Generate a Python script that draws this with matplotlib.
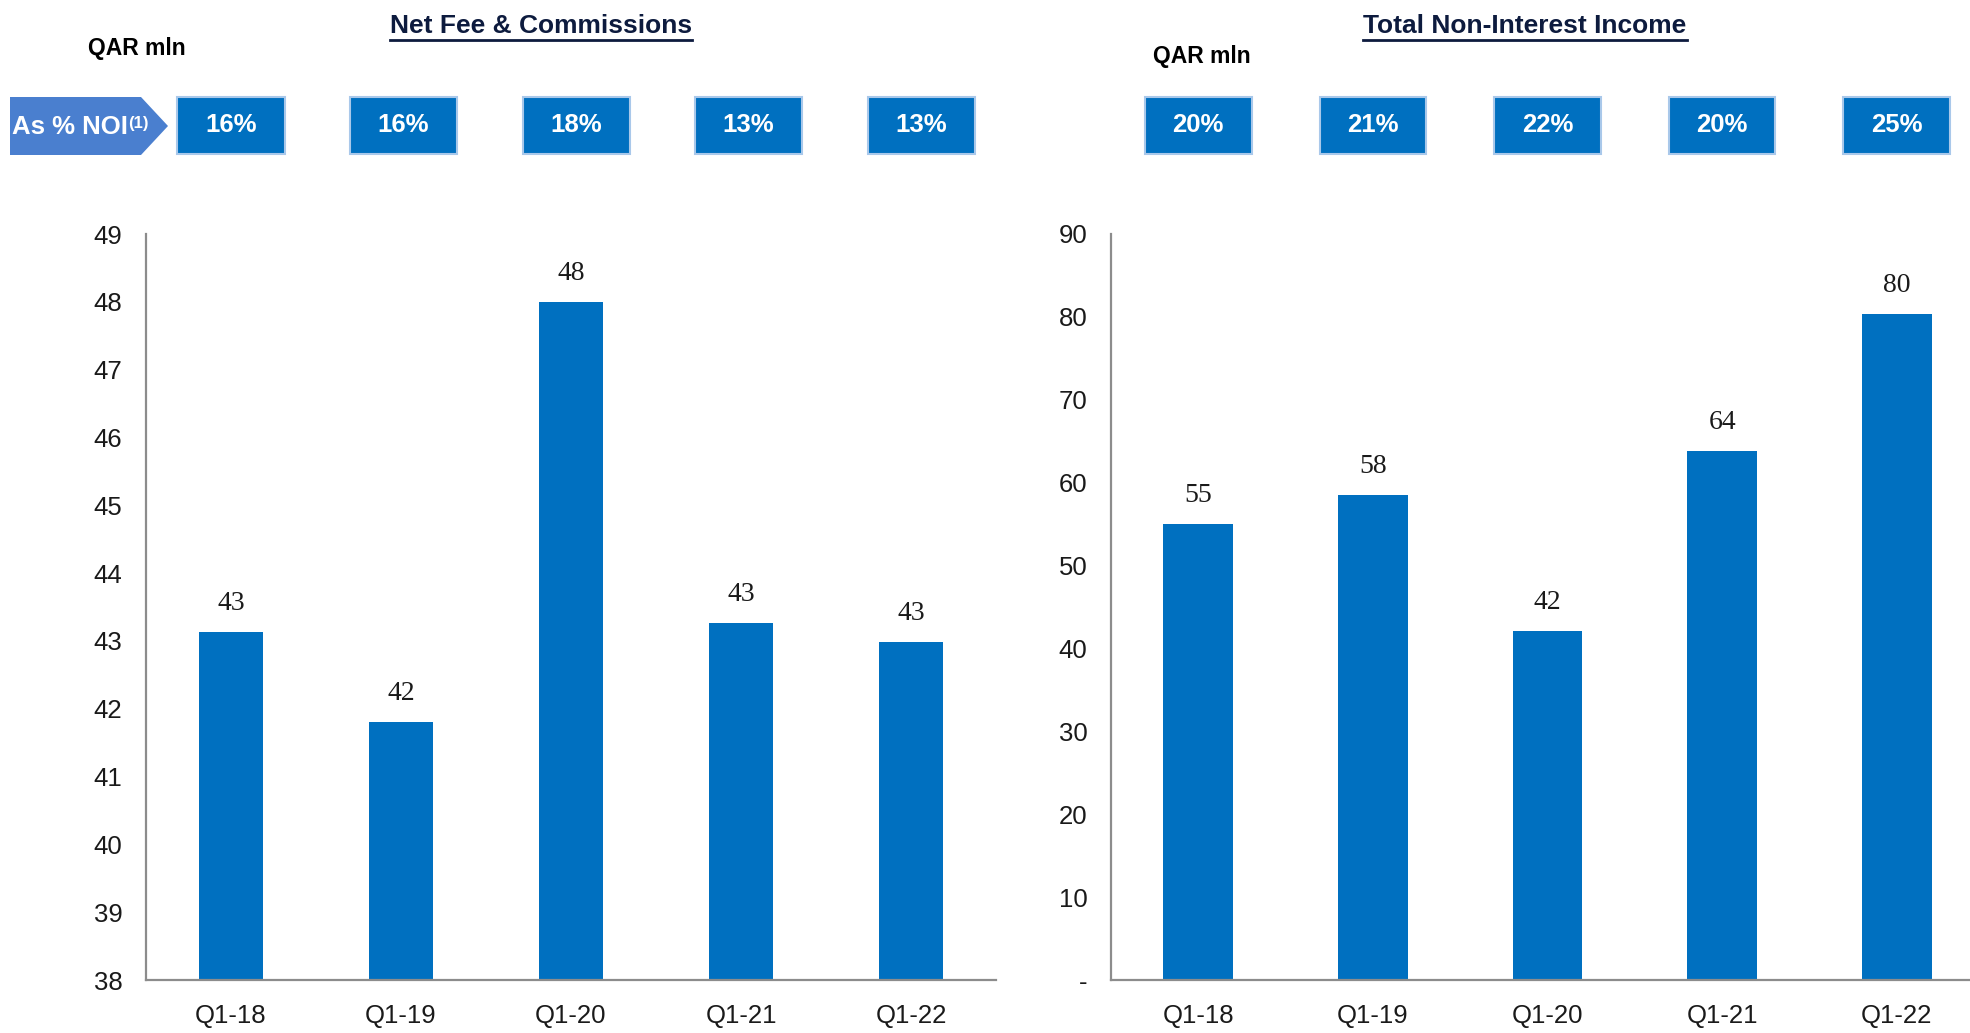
import matplotlib
matplotlib.use("Agg")
import matplotlib.pyplot as plt
from matplotlib.patches import Rectangle, Polygon
from matplotlib.lines import Line2D
from matplotlib.transforms import blended_transform_factory

# quarterly figures, QAR mln
quarters = ["Q1-18", "Q1-19", "Q1-20", "Q1-21", "Q1-22"]
net_fee = [43.13, 41.8, 48.0, 43.26, 42.98]
net_fee_pct = ["16%", "16%", "18%", "13%", "13%"]
non_int_income = [55.0, 58.5, 42.1, 63.8, 80.3]
non_int_pct = ["20%", "21%", "22%", "20%", "25%"]

BAR = "#0070C0"
NAVY = "#0d1b3e"
SPINE = "#8c8c8c"
W, H = 1970, 1033

plt.rcParams["font.family"] = ["Liberation Sans", "DejaVu Sans"]

fig = plt.figure(figsize=(W / 100, H / 100), dpi=100)
ax1 = fig.add_axes([146 / W, 1 - 980 / H, 850 / W, 746 / H])
ax2 = fig.add_axes([1111 / W, 1 - 980 / H, 873 / W, 746 / H])


def draw_bars(ax, values, ylim, ticks, ticklabels, width):
    x = range(len(quarters))
    ax.bar(x, values, width=width, color=BAR, zorder=2)
    ax.set_xlim(-0.5, len(quarters) - 0.5)
    ax.set_ylim(*ylim)
    ax.set_yticks(ticks)
    ax.set_yticklabels(ticklabels)
    ax.set_xticks(list(x))
    ax.set_xticklabels(quarters)
    ax.tick_params(length=0, labelsize=18.5, pad=17, colors="#1a1a1a")
    for s in ["top", "right"]:
        ax.spines[s].set_visible(False)
    for s in ["left", "bottom"]:
        ax.spines[s].set_color(SPINE)
        ax.spines[s].set_linewidth(1.6)
    for i, v in enumerate(values):
        ax.annotate(f"{v:.0f}", (i, v), xytext=(0, 16), textcoords="offset points",
                    ha="center", va="baseline", fontsize=20,
                    family=["Liberation Serif", "DejaVu Serif"], color="#1a1a1a")


draw_bars(ax1, net_fee, (38, 49), range(38, 50), [str(t) for t in range(38, 50)], 0.38)
draw_bars(ax2, non_int_income, (0, 90), range(0, 100, 10),
          ["-"] + [str(t) for t in range(10, 100, 10)], 0.40)


def pct_boxes(ax, labels, width, step):
    tr = blended_transform_factory(ax.transData, fig.transFigure)
    y0, h = 1 - 154 / H, 57 / H
    for i, lab in enumerate(labels):
        xc = i * step
        ax.add_patch(Rectangle((xc - width / 2, y0), width, h, transform=tr,
                               facecolor=BAR, edgecolor="#a9c8ea", linewidth=1.5,
                               clip_on=False))
        ax.text(xc, y0 + h / 2, lab, transform=tr, ha="center", va="center",
                color="white", fontsize=18.5, fontweight="bold")


# the box row is spaced a touch wider than the bars underneath
pct_boxes(ax1, net_fee_pct, 0.63, 1.015)
pct_boxes(ax2, non_int_pct, 0.61, 1.0)

# arrow tag in front of the left row of boxes
arrow = [(10, 97), (141, 97), (168, 126), (141, 155), (10, 155)]
fig.patches.append(Polygon([(px / W, 1 - py / H) for px, py in arrow], closed=True,
                           transform=fig.transFigure, facecolor="#4a7fcf",
                           edgecolor="none"))
tag = fig.text(12 / W, 1 - 127 / H, "As % NOI", ha="left", va="center",
               color="white", fontsize=18.5, fontweight="bold")
fig.add_artist(plt.Annotation("(1)", xy=(1, 0.95), xycoords=tag, xytext=(0, 0),
                              textcoords="offset points", ha="left", va="top",
                              color="white", fontsize=12, fontweight="bold"))

# chart titles with underline
titles = []
for xc, label in [(541 / W, "Net Fee & Commissions"), (1525 / W, "Total Non-Interest Income")]:
    titles.append(fig.text(xc, 1 - 26 / H, label, ha="center", va="center",
                           fontsize=19, fontweight="bold", color=NAVY))
fig.text(88 / W, 1 - 49 / H, "QAR mln", ha="left", va="center", fontsize=16.5,
         fontweight="bold", color="black")
fig.text(1153 / W, 1 - 56 / H, "QAR mln", ha="left", va="center", fontsize=16.5,
         fontweight="bold", color="black")

fig.canvas.draw()
renderer = fig.canvas.get_renderer()
for t in titles:
    bb = t.get_window_extent(renderer).transformed(fig.transFigure.inverted())
    fig.add_artist(Line2D([bb.x0, bb.x1], [bb.y0 - 0.002, bb.y0 - 0.002],
                          transform=fig.transFigure, color=NAVY, linewidth=2))

fig.savefig("out.png", dpi=100)
